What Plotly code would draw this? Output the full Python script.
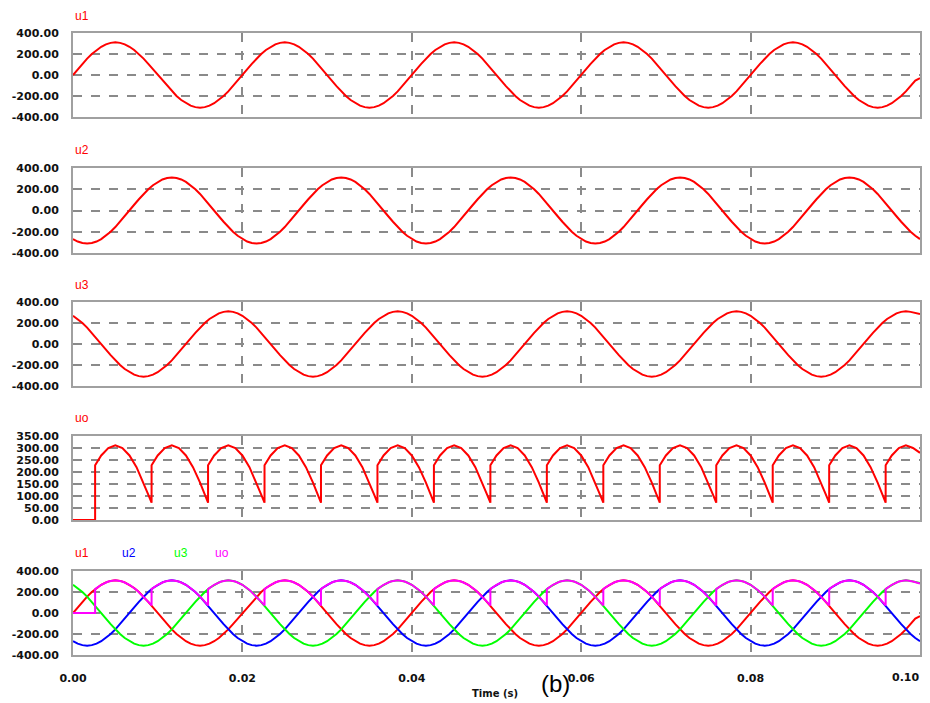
import numpy as np
import plotly.graph_objects as go

# ---------------- data ----------------
x_tickvals = [0.0, 0.02, 0.04, 0.06, 0.08, 0.10]
x_ticktext = ["0.00", "0.02", "0.04", "0.06", "0.08", "0.10"]
ac_tickvals = [-400, -200, 0, 200, 400]
ac_ticktext = ["-400.00", "-200.00", "0.00", "200.00", "400.00"]
dc_tickvals = [0, 50, 100, 150, 200, 250, 300, 350]
dc_ticktext = ["0.00", "50.00", "100.00", "150.00", "200.00", "250.00", "300.00", "350.00"]

# common time base of the phase voltages (s), 181 samples over 0..0.1 s
time_s = np.linspace(0.0, 0.1, 181)

u1 = [
    0, 54, 106, 156, 200, 238, 269, 292, 306, 311, 306, 292, 269, 238, 200, 156, 106, 54,
    0, -54, -106, -156, -200, -238, -269, -292, -306, -311, -306, -292, -269, -238, -200, -156, -106, -54,
    0, 54, 106, 156, 200, 238, 269, 292, 306, 311, 306, 292, 269, 238, 200, 156, 106, 54,
    0, -54, -106, -156, -200, -238, -269, -292, -306, -311, -306, -292, -269, -238, -200, -156, -106, -54,
    0, 54, 106, 156, 200, 238, 269, 292, 306, 311, 306, 292, 269, 238, 200, 156, 106, 54,
    0, -54, -106, -156, -200, -238, -269, -292, -306, -311, -306, -292, -269, -238, -200, -156, -106, -54,
    0, 54, 106, 156, 200, 238, 269, 292, 306, 311, 306, 292, 269, 238, 200, 156, 106, 54,
    0, -54, -106, -156, -200, -238, -269, -292, -306, -311, -306, -292, -269, -238, -200, -156, -106, -54,
    0, 54, 106, 156, 200, 238, 269, 292, 306, 311, 306, 292, 269, 238, 200, 156, 106, 54,
    0, -54, -106, -156, -200, -238, -269, -292, -306, -311, -306, -292, -269, -238, -200, -156, -106, -54,
    -30,
]

u2 = [
    -269, -292, -306, -311, -306, -292, -269, -238, -200, -156, -106, -54,
    0, 54, 106, 156, 200, 238, 269, 292, 306, 311, 306, 292, 269, 238, 200, 156, 106, 54, 0, -54, -106, -156, -200, -238,
    -269, -292, -306, -311, -306, -292, -269, -238, -200, -156, -106, -54,
    0, 54, 106, 156, 200, 238, 269, 292, 306, 311, 306, 292, 269, 238, 200, 156, 106, 54, 0, -54, -106, -156, -200, -238,
    -269, -292, -306, -311, -306, -292, -269, -238, -200, -156, -106, -54,
    0, 54, 106, 156, 200, 238, 269, 292, 306, 311, 306, 292, 269, 238, 200, 156, 106, 54, 0, -54, -106, -156, -200, -238,
    -269, -292, -306, -311, -306, -292, -269, -238, -200, -156, -106, -54,
    0, 54, 106, 156, 200, 238, 269, 292, 306, 311, 306, 292, 269, 238, 200, 156, 106, 54, 0, -54, -106, -156, -200, -238,
    -269, -292, -306, -311, -306, -292, -269, -238, -200, -156, -106, -54,
    0, 54, 106, 156, 200, 238, 269, 292, 306, 311, 306, 292, 269, 238, 200, 156, 106, 54, 0, -54, -106, -156, -200, -238,
    -269,
]

u3 = [
    269, 238, 200, 156, 106, 54, 0, -54, -106, -156, -200, -238,
    -269, -292, -306, -311, -306, -292, -269, -238, -200, -156, -106, -54, 0, 54, 106, 156, 200, 238, 269, 292, 306, 311, 306, 292,
    269, 238, 200, 156, 106, 54, 0, -54, -106, -156, -200, -238,
    -269, -292, -306, -311, -306, -292, -269, -238, -200, -156, -106, -54, 0, 54, 106, 156, 200, 238, 269, 292, 306, 311, 306, 292,
    269, 238, 200, 156, 106, 54, 0, -54, -106, -156, -200, -238,
    -269, -292, -306, -311, -306, -292, -269, -238, -200, -156, -106, -54, 0, 54, 106, 156, 200, 238, 269, 292, 306, 311, 306, 292,
    269, 238, 200, 156, 106, 54, 0, -54, -106, -156, -200, -238,
    -269, -292, -306, -311, -306, -292, -269, -238, -200, -156, -106, -54, 0, 54, 106, 156, 200, 238, 269, 292, 306, 311, 306, 292,
    269, 238, 200, 156, 106, 54, 0, -54, -106, -156, -200, -238,
    -269, -292, -306, -311, -306, -292, -269, -238, -200, -156, -106, -54, 0, 54, 106, 156, 200, 238, 269, 292, 306, 311, 306, 292,
    285,
]

# output voltage uo: its own sample times (ms) incl. the switching instants
uo_time_ms = [
    0.0, 2.611,
    2.611, 3.333, 4.167, 5.000, 5.833, 6.667, 7.500, 8.333, 8.889, 9.278,
    9.278, 10.000, 10.833, 11.667, 12.500, 13.333, 14.167, 15.000, 15.556, 15.944,
    15.944, 16.667, 17.500, 18.333, 19.167, 20.000, 20.833, 21.667, 22.222, 22.611,
    22.611, 23.333, 24.167, 25.000, 25.833, 26.667, 27.500, 28.333, 28.889, 29.278,
    29.278, 30.000, 30.833, 31.667, 32.500, 33.333, 34.167, 35.000, 35.556, 35.944,
    35.944, 36.667, 37.500, 38.333, 39.167, 40.000, 40.833, 41.667, 42.222, 42.611,
    42.611, 43.333, 44.167, 45.000, 45.833, 46.667, 47.500, 48.333, 48.889, 49.278,
    49.278, 50.000, 50.833, 51.667, 52.500, 53.333, 54.167, 55.000, 55.556, 55.944,
    55.944, 56.667, 57.500, 58.333, 59.167, 60.000, 60.833, 61.667, 62.222, 62.611,
    62.611, 63.333, 64.167, 65.000, 65.833, 66.667, 67.500, 68.333, 68.889, 69.278,
    69.278, 70.000, 70.833, 71.667, 72.500, 73.333, 74.167, 75.000, 75.556, 75.944,
    75.944, 76.667, 77.500, 78.333, 79.167, 80.000, 80.833, 81.667, 82.222, 82.611,
    82.611, 83.333, 84.167, 85.000, 85.833, 86.667, 87.500, 88.333, 88.889, 89.278,
    89.278, 90.000, 90.833, 91.667, 92.500, 93.333, 94.167, 95.000, 95.556, 95.944,
    95.944, 96.667, 97.500, 98.333, 99.167, 100.000,
]
uo = [
    0, 0,
    228, 269, 300, 311, 300, 269, 220, 156, 106, 72,
    228, 269, 300, 311, 300, 269, 220, 156, 106, 72,
    228, 269, 300, 311, 300, 269, 220, 156, 106, 72,
    228, 269, 300, 311, 300, 269, 220, 156, 106, 72,
    228, 269, 300, 311, 300, 269, 220, 156, 106, 72,
    228, 269, 300, 311, 300, 269, 220, 156, 106, 72,
    228, 269, 300, 311, 300, 269, 220, 156, 106, 72,
    228, 269, 300, 311, 300, 269, 220, 156, 106, 72,
    228, 269, 300, 311, 300, 269, 220, 156, 106, 72,
    228, 269, 300, 311, 300, 269, 220, 156, 106, 72,
    228, 269, 300, 311, 300, 269, 220, 156, 106, 72,
    228, 269, 300, 311, 300, 269, 220, 156, 106, 72,
    228, 269, 300, 311, 300, 269, 220, 156, 106, 72,
    228, 269, 300, 311, 300, 269, 220, 156, 106, 72,
    228, 269, 300, 311, 300, 280,
]
uo_time_s = [v / 1000.0 for v in uo_time_ms]

# ---------------- figure ----------------
W, H = 930, 703
RED, BLUE, GREEN, MAGENTA = "#ff0000", "#0000ff", "#00ff00", "#ff00ff"
GRID = "#8a8a8a"
BORDER = "#a0a0a0"
TICKFONT = dict(family="DejaVu Sans", size=11, color="#111111", weight="bold")

x0, x1 = 73 / W, 920 / W
panels_px = [(33, 117), (168, 253), (302, 386), (436, 520), (571, 655)]
domains = [[1 - b / H, 1 - t / H] for t, b in panels_px]

fig = go.Figure()

def add(x, y, color, i):
    ax = "" if i == 1 else str(i)
    fig.add_trace(go.Scatter(x=x, y=y, mode="lines", line=dict(color=color, width=2),
                             xaxis="x" + ax, yaxis="y" + ax, showlegend=False,
                             hoverinfo="skip"))

add(time_s, u1, RED, 1)
add(time_s, u2, RED, 2)
add(time_s, u3, RED, 3)
add(uo_time_s, uo, RED, 4)
add(time_s, u1, RED, 5)
add(time_s, u2, BLUE, 5)
add(time_s, u3, GREEN, 5)
add(uo_time_s, uo, MAGENTA, 5)

layout = dict(
    width=W, height=H, margin=dict(l=0, r=0, t=0, b=0, autoexpand=False),
    paper_bgcolor="white", plot_bgcolor="white", showlegend=False,
)
for i in range(1, 6):
    ax = "" if i == 1 else str(i)
    layout["xaxis" + ax] = dict(
        domain=[x0, x1], anchor="y" + ax, range=[0, 0.1], automargin=False,
        tickvals=x_tickvals[:-1], ticktext=x_ticktext[:-1], showticklabels=(i == 5),
        ticks="", tickfont=TICKFONT, ticklabelstandoff=12,
        showgrid=True, gridcolor=GRID, griddash="dash", gridwidth=1.5,
        zeroline=False, showline=True, mirror=True, linecolor=BORDER, linewidth=2,
    )
    if i == 4:
        yv, yt, rng = dc_tickvals, dc_ticktext, [0, 350]
    else:
        yv, yt, rng = ac_tickvals, ac_ticktext, [-400, 400]
    layout["yaxis" + ax] = dict(
        domain=domains[i - 1], anchor="x" + ax, range=rng, automargin=False,
        tickvals=yv, ticktext=yt, ticks="", tickfont=TICKFONT, ticklabelstandoff=10,
        showgrid=True, gridcolor=GRID, griddash="dash", gridwidth=1.5,
        zeroline=False, showline=True, mirror=True, linecolor=BORDER, linewidth=2,
    )
fig.update_layout(**layout)

# last x tick label sits inside the page edge, as in the reference
fig.add_annotation(text=x_ticktext[-1], x=x_tickvals[-1], y=1 - 677 / H, xref="x5", yref="paper",
                   xanchor="right", yanchor="middle", xshift=1, showarrow=False, font=TICKFONT)

LABFONT = dict(family="Liberation Sans", size=12)
labels = [
    ("u1", 73, 16, RED), ("u2", 73, 150, RED), ("u3", 73, 285, RED), ("uo", 73, 418, RED),
    ("u1", 73, 553, RED), ("u2", 120, 553, BLUE), ("u3", 172, 553, GREEN), ("uo", 213, 553, MAGENTA),
]
for txt, px, py, col in labels:
    fig.add_annotation(text=txt, x=px / W, y=1 - py / H, xref="paper", yref="paper",
                       xanchor="left", yanchor="middle", showarrow=False,
                       font=dict(color=col, **LABFONT))

fig.add_annotation(text="Time (s)", x=495 / W, y=1 - 693 / H, xref="paper", yref="paper",
                   xanchor="center", yanchor="middle", showarrow=False,
                   font=dict(family="DejaVu Sans", size=10, color="#111111", weight="bold"))
fig.add_annotation(text="(b)", x=555 / W, y=1 - 683 / H, xref="paper", yref="paper",
                   xanchor="center", yanchor="middle", showarrow=False,
                   font=dict(family="Liberation Sans", size=24, color="#000000"))

# the page's default body margin would shift the figure by 8 px; remove it
fig.write_html("out.html",
               config={"displayModeBar": False},
               post_script="document.body.style.margin='0';document.body.style.overflow='hidden';")
